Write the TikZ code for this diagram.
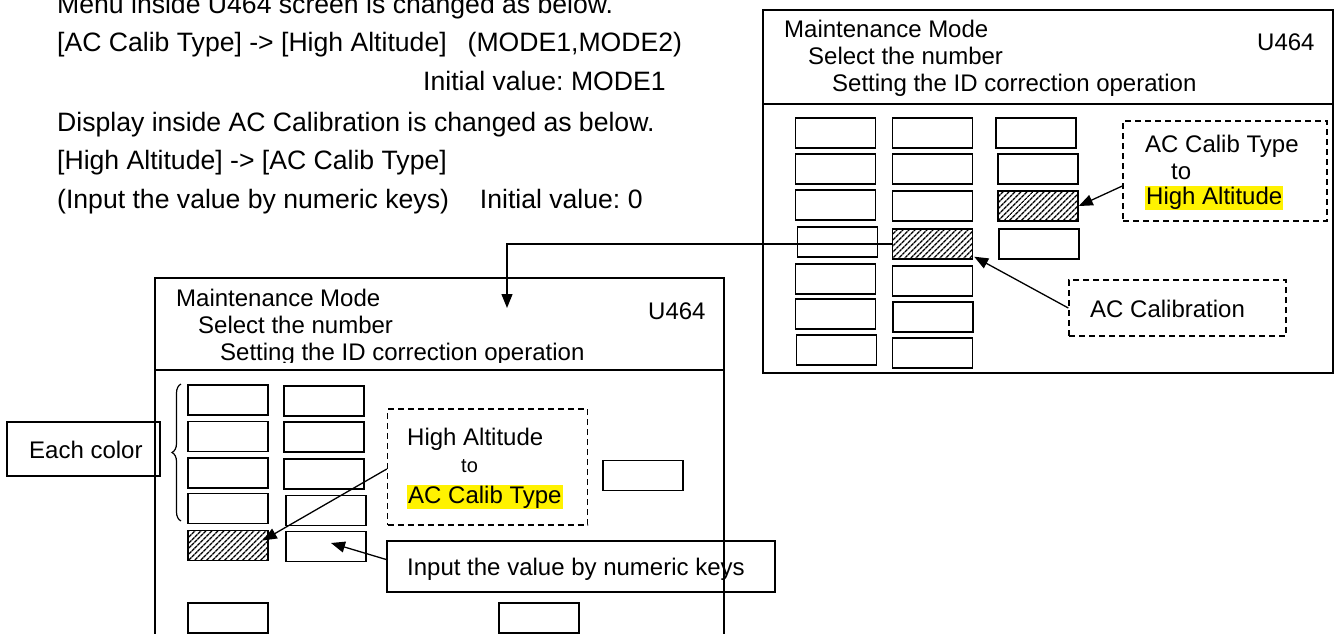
\documentclass[tikz,border=0pt]{standalone}
\usepackage{fontspec}
\setmainfont{Liberation Sans}
\usetikzlibrary{patterns.meta,decorations.pathreplacing,arrows.meta,calc}
\begin{document}
\frenchspacing
\begin{tikzpicture}[x=1pt,y=-1pt,
  cell/.style={draw,line width=1.6pt,minimum width=80pt,minimum height=30pt,inner sep=0pt},
  hcell/.style={cell,pattern={Lines[angle=45,distance=4pt,line width=1.4pt]}},
  panel/.style={draw,line width=1.6pt},
  dbox/.style={draw,dashed,line width=1.4pt,dash pattern=on 6pt off 4pt,inner sep=0pt},
  sbox/.style={draw,line width=1.6pt,inner sep=0pt},
  txt/.style={anchor=base west,inner sep=0pt,font=\fontsize{26.6}{30}\selectfont},
  ptxt/.style={anchor=base west,inner sep=0pt,font=\fontsize{24}{28}\selectfont},
  hl/.style={fill=yellow,inner sep=1pt},
  arr/.style={line width=1.3pt,-{Triangle[length=14pt,width=11pt]}}
]
\useasboundingbox (0,0) rectangle (1336,634);
% top text
\node[txt] (t1) at (57,14) {Menu inside U464 screen is changed as below.};
\node[txt] (t2) at (57,52) {[AC Calib Type] -> [High Altitude]\hspace{21pt}(MODE1,MODE2)};
\node[txt] (t3) at (423,90) {Initial value: MODE1};
\node[txt] (t4) at (57,131) {Display inside AC Calibration is changed as below.};
\node[txt] (t5) at (57,169) {[High Altitude] -> [AC Calib Type]};
\node[txt] (t6) at (57,208) {(Input the value by numeric keys)\hspace{31pt}Initial value: 0};

% ===== right panel =====
\draw[panel] (763,10) rectangle (1333,373);
\draw[panel] (763,104) -- (1333,104);
\begin{scope}
\clip (763,10) rectangle (1333,96);
\node[ptxt] (rh1) at (784,38) {Maintenance Mode};
\node[ptxt] (rh2) at (808,65) {Select the number};
\node[ptxt] (rh3) at (832,92) {Setting the ID correction operation};
\end{scope}
\node[ptxt] (ru) at (1257,51) {U464};

\node[cell] (r11) at (835.5,133) {};
\node[cell] (r12) at (835.5,169) {};
\node[cell] (r13) at (835.5,205) {};
\node[cell] (r14) at (837.5,242) {};
\node[cell] (r15) at (835.5,279) {};
\node[cell] (r16) at (835.5,314) {};
\node[cell] (r17) at (836.5,350) {};
\node[cell] (r21) at (932.5,133) {};
\node[cell] (r22) at (932.5,169) {};
\node[cell] (r23) at (932.5,206) {};
\node[hcell] (r24) at (932.5,244) {};
\node[cell] (r25) at (932.5,281) {};
\node[cell] (r26) at (933,317) {};
\node[cell] (r27) at (932.5,353) {};
\node[cell] (r31) at (1036,133) {};
\node[cell] (r32) at (1038,169) {};
\node[hcell] (r33) at (1038,206) {};
\node[cell] (r34) at (1039,244) {};

\node[dbox,minimum width=204pt,minimum height=100pt] (rac) at (1225,171) {};
\node[ptxt] (rac1) at (1145,152) {AC Calib Type};
\node[ptxt] (rac2) at (1171,179) {to};
\node[ptxt,hl] (rac3) at (1145,204) {High Altitude};
\node[dbox,minimum width=217pt,minimum height=56pt] (acb) at (1177.5,308) {};
\node[ptxt] (acb1) at (1090,317) {AC Calibration};

\draw[arr] ($(rac.west)+(0,15)$) -- (r33.east);
\draw[arr] (acb.west) -- ($(r24.south east)+(1,-3)$);
\coordinate (bend) at (507,244);
\coordinate (btip) at (507,308);
\draw[arr] (r24.west) -- (bend) -- (btip);

% ===== bottom panel =====
\draw[panel] (155,640) -- (155,278) -- (724,278) -- (724,640);
\draw[panel] (155,370) -- (724,370);
\begin{scope}
\clip (155,278) rectangle (724,362);
\node[ptxt] (bh1) at (176,306) {Maintenance Mode};
\node[ptxt] (bh2) at (198,333) {Select the number};
\node[ptxt] (bh3) at (220,360) {Setting the ID correction operation};
\end{scope}
\node[ptxt] (bu) at (648,319) {U464};

\node[cell] (b11) at (228,400) {};
\node[cell] (b12) at (228,436.5) {};
\node[cell] (b13) at (228,473) {};
\node[cell] (b14) at (228,508.5) {};
\node[hcell] (b15) at (228,545.5) {};
\node[cell] (b21) at (324,401) {};
\node[cell] (b22) at (324,437) {};
\node[cell] (b23) at (324,474) {};
\node[cell] (b24) at (326,510.5) {};
\node[cell] (b25) at (326,546.5) {};
\node[cell] (b30) at (643,475.5) {};
\node[cell] (b41) at (228,618) {};
\node[cell] (b42) at (539,618) {};

\draw[line width=1.2pt,decorate,decoration={brace,amplitude=9pt}] (181,521) -- (181,384);
\node[sbox,minimum width=153pt,minimum height=54pt] (ec) at (83.5,449) {};
\node[ptxt] (ec1) at (29,458) {Each color};

\node[dbox,minimum width=200pt,minimum height=116pt] (hab) at (487.5,467) {};
\node[ptxt] (hab1) at (407,445) {High Altitude};
\node[ptxt,font=\fontsize{20}{24}\selectfont] (hab2) at (461,472) {to};
\node[ptxt,hl] (hab3) at (407,503) {AC Calib Type};

\node[sbox,minimum width=388pt,minimum height=51pt] (ikb) at (581,566.5) {};
\node[ptxt] (ikb1) at (407,575) {Input the value by numeric keys};

\draw[arr] ($(hab.west)+(0,2)$) -- ($(b15.east)+(-6,-5)$);
\coordinate (itip) at (331,543);
\draw[arr] ($(ikb.west)+(0,-7)$) -- (itip);
\end{tikzpicture}
\end{document}
